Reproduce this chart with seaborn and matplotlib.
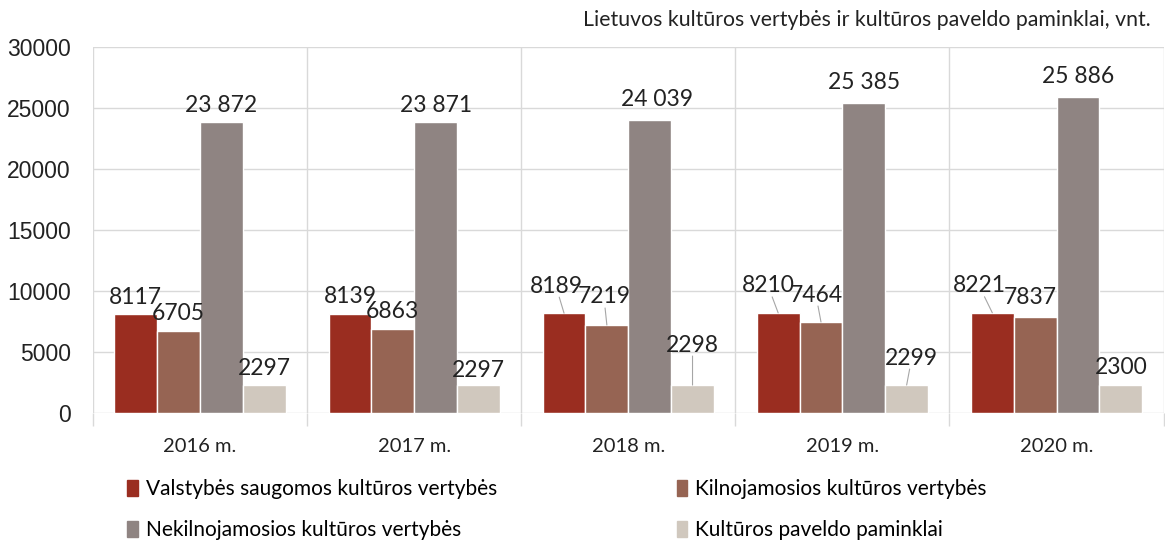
import matplotlib
matplotlib.use('Agg')
import matplotlib.pyplot as plt
import pandas as pd
import seaborn as sns

years = ['2016 m.', '2017 m.', '2018 m.', '2019 m.', '2020 m.']
series = [
    'Valstybės saugomos kultūros vertybės',
    'Kilnojamosios kultūros vertybės',
    'Nekilnojamosios kultūros vertybės',
    'Kultūros paveldo paminklai',
]
valstybes = [8117, 8139, 8189, 8210, 8221]
kilnojamosios = [6705, 6863, 7219, 7464, 7837]
nekilnojamosios = [23872, 23871, 24039, 25385, 25886]
paminklai = [2297, 2297, 2298, 2299, 2300]

colors = ['#9A2D20', '#966453', '#8F8482', '#D0C8BE']

# label offsets (dx, dy in pixels) from bar top centre, per series / year
label_offsets = [
    [(0, 17), (0, 17), (-8, 27), (-10, 27), (-13, 27)],
    [(0, 18), (0, 18), (-3, 28), (-5, 27), (-5, 20)],
    [(0, 16), (0, 16), (7, 20), (0, 21), (0, 21)],
    [(0, 17), (0, 15), (0, 40), (5, 27), (0, 18)],
]

df = pd.DataFrame({
    'year': years * 4,
    'series': [s for s in series for _ in years],
    'value': valstybes + kilnojamosios + nekilnojamosios + paminklai,
})

fig = plt.figure(figsize=(11.65, 5.4), dpi=100)
ax = fig.add_axes([0.0798, 0.235, 0.919, 0.678])

sns.barplot(data=df, x='year', y='value', hue='series', palette=colors,
            width=0.8, edgecolor='white', linewidth=1, saturation=1,
            legend=False, ax=ax)

ax.set_ylim(0, 30000)
ax.set_xlim(-0.5, 4.5)
ax.set_yticks(range(0, 30001, 5000))
ax.set_xlabel('')
ax.set_ylabel('')
for s in ax.spines.values():
    s.set_visible(False)
ax.grid(axis='y', color='#D9D9D9', linewidth=1)
ax.set_axisbelow(True)
ax.set_xticks([i - 0.5 for i in range(6)], minor=True)
ax.grid(axis='x', which='minor', color='#D9D9D9', linewidth=1)
ax.tick_params(axis='x', which='major', length=0, pad=18, labelsize=14.5, labelcolor='#222222')
ax.tick_params(axis='x', which='minor', length=9, color='#D9D9D9', width=1)
ax.tick_params(axis='y', length=0, pad=16, labelsize=16.5, labelcolor='#222222')
for lbl in ax.get_xticklabels():
    lbl.set_fontfamily('Lato')
for lbl in ax.get_yticklabels():
    lbl.set_fontfamily('Liberation Sans')

# data labels
px = 72 / fig.dpi
for si, cont in enumerate(ax.containers):
    for yi, bar in enumerate(cont):
        v = bar.get_height()
        txt = f'{int(v):,}'.replace(',', ' ') if v >= 10000 else str(int(v))
        dx, dy = label_offsets[si][yi]
        x = bar.get_x() + bar.get_width() / 2
        ax.annotate(txt, (x, v), xytext=(dx * px, dy * px), textcoords='offset points',
                    ha='center', va='center', fontsize=16.5, family='Lato',
                    color='#222222')
        if dy > 22:
            ax.annotate('', (x, v), xytext=(dx * px * 0.6, (dy - 11) * px),
                        textcoords='offset points',
                        arrowprops=dict(arrowstyle='-', color='#A6A6A6', lw=0.8,
                                        shrinkA=0, shrinkB=0))

fig.text(0.988, 0.963, 'Lietuvos kultūros vertybės ir kultūros paveldo paminklai, vnt.',
         ha='right', va='center', fontsize=15.3, family='Lato', color='#222222')

# legend in row order: column-wise fill, so interleave
order = [0, 2, 1, 3]
handles = [plt.Rectangle((0, 0), 1, 1, color=colors[i]) for i in order]
fig.legend(handles, [series[i] for i in order], loc='upper left',
           bbox_to_anchor=(0.0933, 0.147),
           ncol=2, frameon=False, handlelength=0.5, handleheight=0.75,
           handletextpad=0.4, columnspacing=8.6, labelspacing=1.0,
           prop={'family': 'Lato', 'size': 15})

fig.savefig('out.png', dpi=100)
